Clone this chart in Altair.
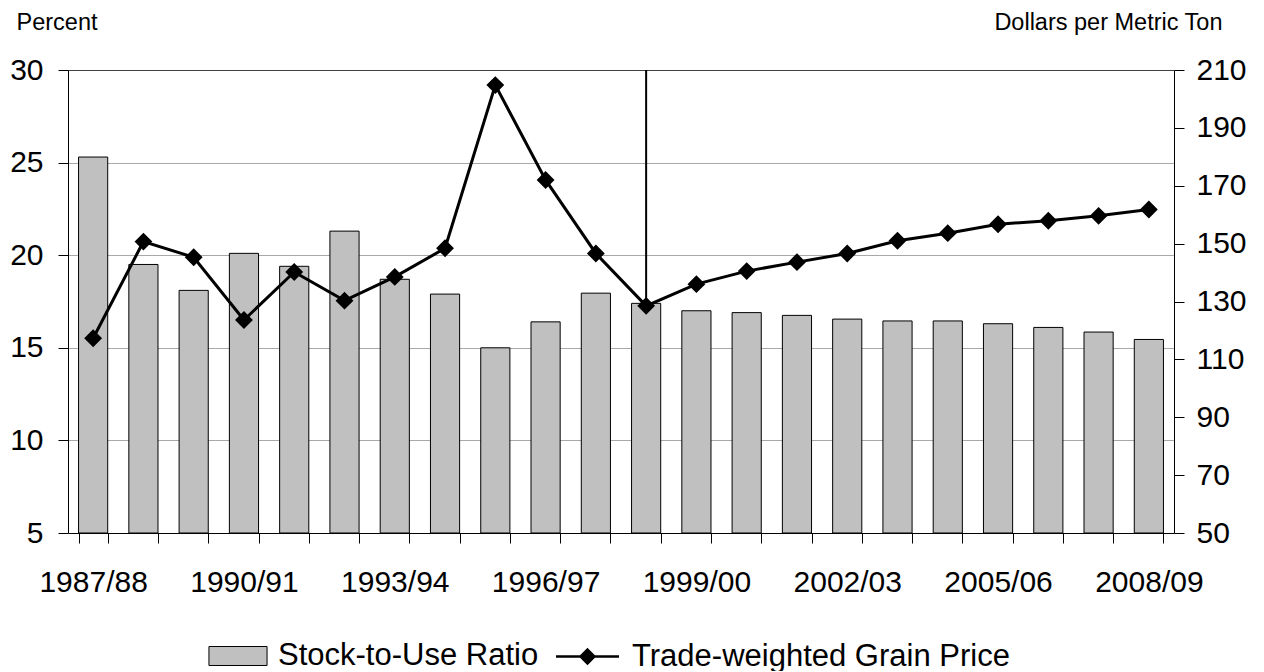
import altair as alt
import pandas as pd

seasons = ["1987/88", "1988/89", "1989/90", "1990/91", "1991/92", "1992/93", "1993/94",
           "1994/95", "1995/96", "1996/97", "1997/98", "1998/99", "1999/00", "2000/01",
           "2001/02", "2002/03", "2003/04", "2004/05", "2005/06", "2006/07", "2007/08", "2008/09"]
stock_to_use = [25.3, 19.5, 18.1, 20.1, 19.4, 21.3, 18.7, 17.9, 15.0, 16.4, 17.95,
                17.4, 17.0, 16.9, 16.75, 16.55, 16.45, 16.45, 16.3, 16.1, 15.85, 15.45]
grain_price = [117.3, 150.7, 145.3, 123.6, 140.2, 130.3, 138.5, 148.4, 204.8, 172.0, 146.6,
               128.5, 136.0, 140.5, 143.6, 146.6, 151.0, 153.6, 156.7, 157.9, 159.6, 161.8]
shown_labels = seasons[::3]
marker_season = "1998/99"

FONT = "Liberation Sans"

df = pd.DataFrame({
    "season": seasons,
    "stock": stock_to_use,
    "price": grain_price,
    "s1": "Stock-to-Use Ratio",
    "s2": "Trade-weighted Grain Price",
})

label_list = "[" + ",".join("'" + s + "'" for s in shown_labels) + "]"

xenc = alt.X(
    "season:N", sort=seasons,
    scale=alt.Scale(paddingInner=0.42, paddingOuter=0.21),
    axis=alt.Axis(
        title=None, tickBand="extent", labelAngle=0, labelOverlap=False,
        labelExpr=f"indexof({label_list}, datum.value) >= 0 ? datum.value : ''",
        labelFont=FONT, labelFontSize=30, labelColor="black", labelPadding=24,
        tickSize=10, tickColor="black", domainColor="black", grid=False,
    ),
)

bars = alt.Chart(df).mark_bar(stroke="black", strokeWidth=1).encode(
    x=xenc,
    y=alt.Y(
        "stock:Q",
        scale=alt.Scale(domain=[5, 30], nice=False, zero=False),
        axis=alt.Axis(
            title="Percent", values=[5, 10, 15, 20, 25, 30],
            titleAngle=0, titleAlign="left", titleBaseline="middle",
            titleX=-52, titleY=-48, titleFont=FONT, titleFontSize=23.5,
            titleFontWeight="normal", titleColor="black",
            labelFont=FONT, labelFontSize=30, labelColor="black", labelPadding=15,
            tickSize=10, tickColor="black", domainColor="black",
            grid=True,
            gridColor={"condition": {"test": "datum.value === 30", "value": "#404040"},
                       "value": "#a8a8a8"},
        ),
    ),
    y2=alt.datum(5),
    color=alt.Color(
        "s1:N", scale=alt.Scale(range=["#c0c0c0"]),
        legend=alt.Legend(
            title=None, orient="none", legendX=150, legendY=566,
            symbolType="M-1.5,-0.49H1.5V0.49H-1.5Z", symbolSize=1500,
            symbolStrokeColor="black", symbolStrokeWidth=1, symbolFillColor="#c0c0c0",
            labelFont=FONT, labelFontSize=31, labelColor="black", labelOffset=20,
            labelLimit=600, padding=0,
        ),
    ),
)

price_scale = alt.Scale(domain=[50, 210], nice=False, zero=False)

rule = alt.Chart(df).transform_filter(alt.datum.season == marker_season).mark_rule(
    color="black", strokeWidth=2
).encode(
    x=xenc,
    y=alt.Y("price:Q", scale=price_scale, axis=None),
    y2=alt.value(0),
)

line = alt.Chart(df).mark_line(
    color="black", strokeWidth=3,
    point=alt.OverlayMarkDef(shape="diamond", size=225, filled=True, color="black"),
).encode(
    x=xenc,
    y=alt.Y(
        "price:Q", scale=price_scale,
        axis=alt.Axis(
            orient="right", title="Dollars per Metric Ton",
            values=list(range(50, 211, 20)),
            titleAngle=0, titleAlign="right", titleBaseline="middle",
            titleX=48, titleY=-48, titleFont=FONT, titleFontSize=23.5,
            titleFontWeight="normal", titleColor="black",
            labelFont=FONT, labelFontSize=30, labelColor="black", labelPadding=12,
            tickSize=10, tickColor="black", domainColor="black", grid=False,
        ),
    ),
    stroke=alt.Stroke(
        "s2:N", scale=alt.Scale(range=["black"]),
        legend=alt.Legend(
            title=None, orient="none", legendX=497, legendY=564,
            symbolType="M-1.5,0H1.5M0,-0.33L0.33,0L0,0.33L-0.33,0Z", symbolSize=1764,
            symbolStrokeColor="black", symbolStrokeWidth=2.5, symbolFillColor="black",
            labelFont=FONT, labelFontSize=31, labelColor="black", labelOffset=22,
            labelLimit=600, padding=0,
        ),
    ),
)

chart = alt.layer(bars, rule, line).resolve_scale(y="independent").properties(
    width=1106, height=463,
    autosize=alt.AutoSizeParams(type="none"),
    padding={"left": 60, "top": 62, "right": 80, "bottom": 138},
).configure_view(stroke=None).configure(background="white")

chart.save("out.html", embed_options={"renderer": "svg", "actions": False})
